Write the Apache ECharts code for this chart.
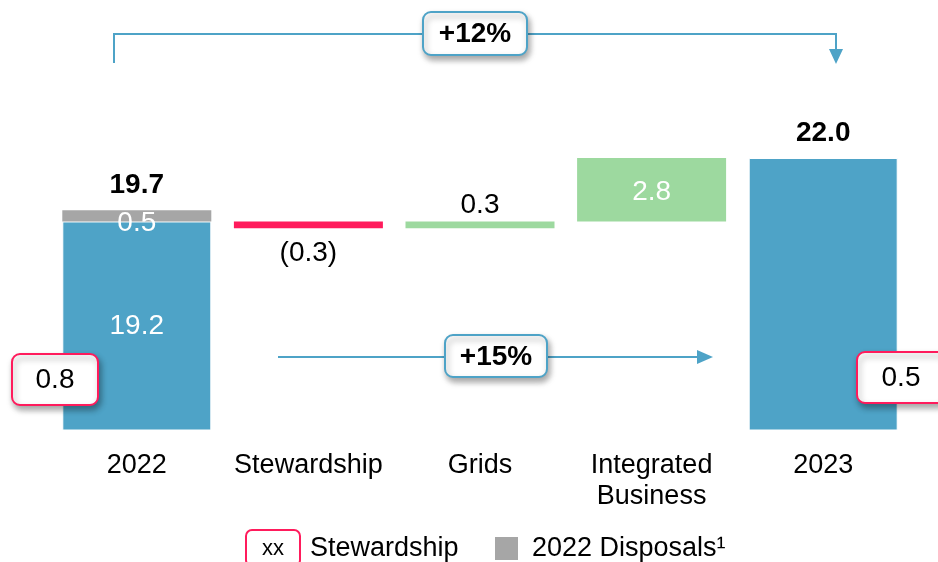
<!DOCTYPE html>
<html>
<head>
<meta charset="utf-8">
<script src="https://cdn.jsdelivr.net/npm/echarts@6/dist/echarts.min.js"></script>
<style>
    html, body { margin: 0; padding: 0; background: #fff; }
    #chart { width: 938px; height: 562px; }
</style>
</head>
<body>
<div id="chart"></div>
<script>
var categories = ['2022', 'Stewardship', 'Grids', 'Integrated\nBusiness', '2023'];
var openingValue = 19.2;          // 2022 excluding disposals
var disposals2022 = 0.5;
var movements = [-0.3, 0.3, 2.8]; // Stewardship, Grids, Integrated Business
var closingValue = 22.0;
var reportedTotals = ['19.7', '22.0'];
var stewardshipShares = ['0.8', '0.5'];
var growthLabels = ['+12%', '+15%'];

var BLUE = '#4EA3C7';
var GREEN = '#9DD99F';
var PINK = '#FF1B5C';
var GREY = '#A6A6A6';
var FONT = 'Liberation Sans, Arial, sans-serif';

// build the invisible base and the visible steps of the waterfall
var base = [0];
var rise = ['-'];
var fall = ['-'];
var running = openingValue;
movements.forEach(function (m) {
    if (m < 0) {
        base.push(+(running + m).toFixed(2));
        fall.push(-m);
        rise.push('-');
    } else {
        base.push(running);
        rise.push(m);
        fall.push('-');
    }
    running = +(running + m).toFixed(2);
});
base.push(0);
rise.push('-');
fall.push('-');

var totals = [openingValue, '-', '-', '-', closingValue];
var disposals = [disposals2022, '-', '-', '-', '-'];
var totalTop = [0, '-', '-', '-', 0];

function fmt(v) {
    return Math.abs(v).toFixed(1);
}

function calloutBox(x, y, w, h, text, stroke, bold) {
    return {
        type: 'group',
        z: 100,
        children: [
            {
                type: 'rect',
                z: 100,
                shape: { x: x, y: y, width: w, height: h, r: 8 },
                style: {
                    fill: '#fff', stroke: stroke, lineWidth: 2,
                    shadowBlur: 6, shadowOffsetX: 2, shadowOffsetY: 4,
                    shadowColor: 'rgba(0,0,0,0.35)'
                }
            },
            {
                type: 'text',
                z: 101,
                style: {
                    x: x + w / 2, y: y + h / 2 + 1, text: text,
                    align: 'center', verticalAlign: 'middle',
                    fill: '#000', fontFamily: FONT, fontSize: 28,
                    fontWeight: bold ? 'bold' : 'normal'
                }
            }
        ]
    };
}

var chart = echarts.init(document.getElementById('chart'));

var option = {
    animation: false,
    textStyle: { fontFamily: FONT },
    grid: { left: 51, right: 29, top: 90, bottom: 132 },
    xAxis: {
        type: 'category',
        data: categories,
        axisLine: { show: false },
        axisTick: { show: false },
        axisLabel: {
            color: '#000', fontSize: 27, lineHeight: 31, margin: 20,
            fontFamily: FONT, interval: 0
        }
    },
    yAxis: {
        type: 'value',
        min: 10,
        max: 25,
        show: false
    },
    series: [
        {
            name: 'base', type: 'bar', stack: 'w', barWidth: 149,
            itemStyle: { color: 'transparent' },
            data: base
        },
        {
            name: 'Total', type: 'bar', stack: 'w',
            itemStyle: { color: BLUE, borderColor: '#fff', borderWidth: 1 },
            label: {
                show: true, position: 'inside', color: '#fff', fontSize: 28,
                formatter: function (p) { return p.dataIndex === 0 ? fmt(p.value) : ''; }
            },
            data: totals
        },
        {
            name: '2022 Disposals', type: 'bar', stack: 'w',
            itemStyle: { color: GREY },
            label: {
                show: true, position: 'inside', color: '#fff', fontSize: 28,
                offset: [0, 7],
                formatter: function (p) { return fmt(p.value); }
            },
            data: disposals
        },
        {
            name: 'Decrease', type: 'bar', stack: 'w',
            itemStyle: { color: PINK },
            label: {
                show: true, position: 'bottom', distance: 11, color: '#000', fontSize: 28,
                formatter: function (p) { return '(' + fmt(p.value) + ')'; }
            },
            data: fall
        },
        {
            name: 'Increase', type: 'bar', stack: 'w',
            itemStyle: { color: GREEN },
            label: {
                show: true, color: '#000', fontSize: 28,
                formatter: function (p) { return fmt(p.value); }
            },
            data: rise.map(function (v) {
                if (v === '-') return v;
                // small steps get the label above, large ones inside
                if (v < 1) {
                    return { value: v, label: { position: 'top', distance: 2 } };
                }
                return { value: v, label: { position: 'inside', color: '#fff', offset: [0, 3] } };
            })
        },
        {
            name: 'totalLabel', type: 'bar', stack: 'w',
            itemStyle: { color: 'transparent' },
            label: {
                show: true, position: 'top', color: '#000', fontSize: 28,
                fontWeight: 'bold', distance: 11,
                formatter: function (p) {
                    return p.dataIndex === 0 ? reportedTotals[0] : reportedTotals[1];
                }
            },
            data: totalTop
        }
    ],
    graphic: [
        // +12% bracket from 2022 to 2023
        {
            type: 'polyline',
            shape: { points: [[114, 63], [114, 34], [836, 34], [836, 52]] },
            style: { stroke: BLUE, lineWidth: 2, fill: null }
        },
        {
            type: 'polygon',
            shape: { points: [[829, 49], [843, 49], [836, 64]] },
            style: { fill: BLUE }
        },
        calloutBox(423, 12, 104, 43, growthLabels[0], BLUE, true),
        // +15% arrow
        {
            type: 'line',
            z: 90,
            shape: { x1: 278, y1: 357, x2: 700, y2: 357 },
            style: { stroke: BLUE, lineWidth: 2 }
        },
        {
            type: 'polygon',
            z: 90,
            shape: { points: [[697, 350], [697, 364], [713, 357]] },
            style: { fill: BLUE }
        },
        calloutBox(445, 335, 102, 42, growthLabels[1], BLUE, true),
        // stewardship callouts
        calloutBox(12, 354, 86, 51, stewardshipShares[0], PINK, false),
        calloutBox(857, 352, 88, 51, stewardshipShares[1], PINK, false),
        // legend
        {
            type: 'rect',
            shape: { x: 246, y: 530, width: 54, height: 36, r: 6 },
            style: { fill: '#fff', stroke: PINK, lineWidth: 2 }
        },
        {
            type: 'text',
            style: {
                x: 273, y: 549, text: 'xx', align: 'center', verticalAlign: 'middle',
                fill: '#000', fontFamily: FONT, fontSize: 22
            }
        },
        {
            type: 'text',
            style: {
                x: 310, y: 549, text: 'Stewardship', align: 'left', verticalAlign: 'middle',
                fill: '#000', fontFamily: FONT, fontSize: 27
            }
        },
        {
            type: 'rect',
            shape: { x: 495, y: 537, width: 23, height: 23 },
            style: { fill: GREY }
        },
        {
            type: 'text',
            style: {
                x: 532, y: 549, text: '2022 Disposals\u00b9', align: 'left', verticalAlign: 'middle',
                fill: '#000', fontFamily: FONT, fontSize: 27
            }
        }
    ]
};

chart.setOption(option);
</script>
</body>
</html>
